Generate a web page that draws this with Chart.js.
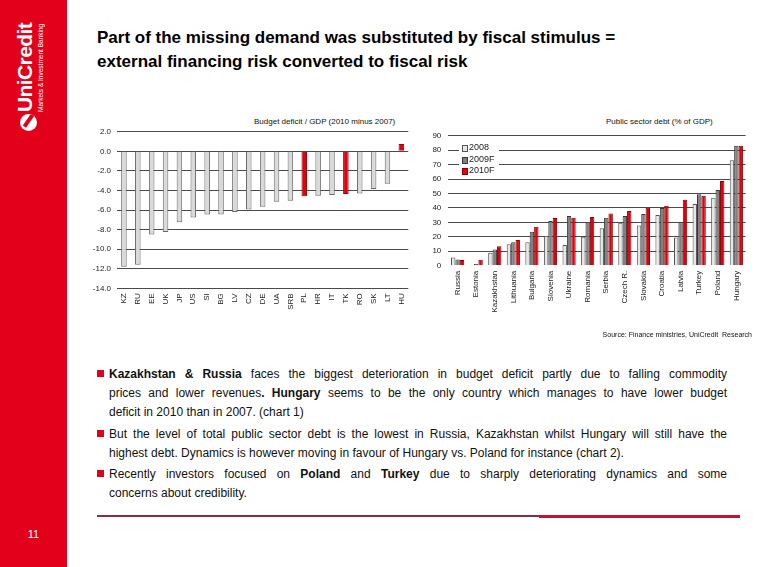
<!DOCTYPE html>
<html><head><meta charset="utf-8">
<script src="https://cdn.jsdelivr.net/npm/chart.js@4.4.1/dist/chart.umd.min.js"></script>
<style>
html,body{margin:0;padding:0;background:#fff;}
body{width:765px;height:567px;position:relative;overflow:hidden;font-family:"Liberation Sans",Arial,sans-serif;color:#000;}
#side{position:absolute;left:0;top:0;width:67px;height:567px;background:#e2001a;}
.vt{position:absolute;writing-mode:vertical-rl;transform:rotate(180deg);color:#fff;white-space:nowrap;text-align:start;}
#logo1{left:13px;top:20px;height:92px;font-weight:bold;font-size:21px;line-height:24px;letter-spacing:-0.6px;}
#logo2{left:37px;top:22px;height:90px;font-size:6.5px;line-height:8px;}
#sym{position:absolute;left:20px;top:114px;width:17px;height:17px;border-radius:50%;background:#fff;overflow:hidden;}
#sym i{position:absolute;left:7px;top:-2px;width:4px;height:16px;background:#e2001a;transform:rotate(35deg);}
#pg{position:absolute;left:0;width:67px;top:528px;text-align:center;color:#fff;font-size:11px;}
#title{position:absolute;left:97px;top:26px;font-weight:bold;font-size:17px;line-height:24px;}
.ct{position:absolute;top:117px;font-size:8px;line-height:10px;white-space:nowrap;color:#111;}
canvas{position:absolute;}
#lg{position:absolute;left:459px;top:142px;width:40px;height:34px;background:#fff;font-size:9px;line-height:11.5px;color:#222;}
#lg div{position:relative;padding-left:10px;height:11.5px;white-space:nowrap;}
#lg span{position:absolute;left:3px;top:3px;width:4px;height:5px;border:1px solid;}
#src{position:absolute;right:13px;top:330px;font-size:7px;line-height:10px;white-space:nowrap;color:#111;}
.bul{position:absolute;left:109px;width:618px;font-size:12px;line-height:19px;color:#111;}
.bul .ln{white-space:nowrap;}
.bul .j{text-align:justify;text-align-last:justify;white-space:normal;}
.sq{position:absolute;left:-12px;top:5.5px;width:7px;height:7px;background:#e2001a;}
#l1{position:absolute;left:97px;top:515px;width:442px;height:2px;background:#8c2c42;}
#l2{position:absolute;left:539px;top:514.5px;width:201px;height:3px;background:#c4122f;}
</style>
</head><body>
<div id="side"></div>
<div class="vt" id="logo1">UniCredit</div>
<div class="vt" id="logo2">Markets &amp; Investment Banking</div>
<div id="sym"><i></i></div>
<div id="pg">11</div>

<div id="title">Part of the missing demand was substituted by fiscal stimulus =<br>external financing risk converted to fiscal risk</div>

<div class="ct" id="t1" style="left:254px;">Budget deficit / GDP (2010 minus 2007)</div>
<div class="ct" id="t2" style="left:606px;">Public sector debt (% of GDP)</div>

<canvas id="c1" width="326" height="208" style="left:90px;top:121px;width:326px;height:208px;"></canvas>
<canvas id="c2" width="336" height="190" style="left:415px;top:124px;width:336px;height:190px;"></canvas>

<div id="lg"></div>

<div id="src">Source: Finance ministries, UniCredit&nbsp; Research</div>

<div class="bul" style="top:364.5px;">
  <div class="sq"></div>
  <div class="ln j"><b>Kazakhstan &amp; Russia</b> faces the biggest deterioration in budget deficit partly due to falling commodity</div>
  <div class="ln j">prices and lower revenues<b>.</b> <b>Hungary</b> seems to be the only country which manages to have lower budget</div>
  <div class="ln">deficit in 2010 than in 2007. (chart 1)</div>
</div>
<div class="bul" style="top:424.8px;">
  <div class="sq"></div>
  <div class="ln j">But the level of total public sector debt is the lowest in Russia, Kazakhstan whilst Hungary will still have the</div>
  <div class="ln">highest debt. Dynamics is however moving in favour of Hungary vs. Poland for instance (chart 2).</div>
</div>
<div class="bul" style="top:464.8px;">
  <div class="sq"></div>
  <div class="ln j">Recently investors focused on <b>Poland</b> and <b>Turkey</b> due to sharply deteriorating dynamics and some</div>
  <div class="ln">concerns about credibility.</div>
</div>

<div id="l1"></div><div id="l2"></div>

<script>
// ---- Chart 1: Budget deficit / GDP (2010 minus 2007)
const deficitCategories = ['KZ','RU','EE','UK','JP','US','SI','BG','LV','CZ','DE','UA','SRB','PL','HR','IT','TK','RO','SK','LT','HU'];
const deficitChange = [-11.8,-11.6,-8.5,-8.25,-7.25,-6.75,-6.45,-6.45,-6.2,-5.95,-5.65,-5.15,-5.05,-4.6,-4.55,-4.45,-4.35,-4.3,-3.85,-3.3,0.75];
const deficitHighlighted = ['PL','TK','HU'];
const deficitAxis = {min:-14, max:2, step:2};

// ---- Chart 2: Public sector debt (% of GDP)
const debtCategories = ['Russia','Estonia','Kazakhstan','Lithuania','Bulgaria','Slovenia','Ukraine','Romania','Serbia','Czech R.','Slovakia','Croatia','Latvia','Turkey','Poland','Hungary'];
const debtSeriesNames = ['2008','2009F','2010F'];
const debt2008  = [5.7,0.2,8.9,14.8,16.2,20.8,14.4,20.0,26.0,29.7,27.9,35.2,19.6,42.7,47.0,73.0];
const debt2009F = [4.3,1.1,11.2,16.2,23.5,31.0,34.5,30.0,33.3,34.5,35.8,40.0,30.1,49.5,52.5,83.1];
const debt2010F = [3.9,4.1,13.5,17.8,26.9,33.1,33.3,33.8,36.1,37.9,40.2,41.6,45.7,48.4,58.7,83.1];
const debtAxis = {min:0, max:90, step:10};

const FONT = "'Liberation Sans', Arial, sans-serif";
Chart.defaults.font.family = FONT;
Chart.defaults.color = '#222';

new Chart(document.getElementById('c1'), {
  type: 'bar',
  data: {
    labels: deficitCategories,
    datasets: [{
      data: deficitChange,
      backgroundColor: ctx => deficitHighlighted.includes(deficitCategories[ctx.dataIndex]) ? '#e3000f' : '#d9d9d9',
      borderColor: ctx => deficitHighlighted.includes(deficitCategories[ctx.dataIndex]) ? '#a00008' : '#6a6a6a',
      borderWidth: 1,
      categoryPercentage: 0.8,
      barPercentage: 0.5
    }]
  },
  options: {
    animation: false, responsive: false, maintainAspectRatio: false, devicePixelRatio: 1,
    layout: {padding: {top: 10, right: 2, bottom: 0, left: 0}},
    plugins: {legend: {display: false}, tooltip: {enabled: false}},
    scales: {
      x: {
        grid: {display: false, drawTicks: false}, border: {display: false},
        ticks: {autoSkip: false, minRotation: 90, maxRotation: 90, padding: 5, font: {size: 8}, color: '#222'},
        afterFit(s) { s.height = 40.7; }
      },
      y: {
        min: deficitAxis.min, max: deficitAxis.max,
        ticks: {stepSize: deficitAxis.step, callback: v => v.toFixed(1), padding: 6, font: {size: 8}, color: '#222'},
        grid: {color: '#4a4a4a', lineWidth: 1, drawTicks: false}, border: {display: false},
        afterFit(s) { s.width = 27; }
      }
    }
  }
});

const debtColors = [
  {bg: '#e6e6e6', bd: '#555555'},
  {bg: '#808080', bd: '#3a3a3a'},
  {bg: '#e10010', bd: '#8a0000'}
];
const debtValues = [debt2008, debt2009F, debt2010F];

new Chart(document.getElementById('c2'), {
  type: 'bar',
  data: {
    labels: debtCategories,
    datasets: debtSeriesNames.map((n, i) => ({
      label: n, data: debtValues[i],
      backgroundColor: debtColors[i].bg, borderColor: debtColors[i].bd, borderWidth: 1,
      categoryPercentage: 0.71, barPercentage: 1.0
    }))
  },
  options: {
    animation: false, responsive: false, maintainAspectRatio: false, devicePixelRatio: 1,
    layout: {padding: {top: 10.3, right: 1.7, bottom: 0, left: 0}},
    plugins: {legend: {display: false}, tooltip: {enabled: false}},
    scales: {
      x: {
        grid: {display: false, drawTicks: false}, border: {display: false},
        ticks: {autoSkip: false, minRotation: 90, maxRotation: 90, padding: 5, font: {size: 8}, color: '#222'},
        afterFit(s) { s.height = 48.3; }
      },
      y: {
        min: debtAxis.min, max: debtAxis.max,
        ticks: {stepSize: debtAxis.step, padding: 7, font: {size: 8}, color: '#222'},
        grid: {color: ctx => ctx.tick && ctx.tick.value === 0 ? 'rgba(0,0,0,0)' : '#4a4a4a', lineWidth: 1, drawTicks: false},
        border: {display: false},
        afterFit(s) { s.width = 33.3; }
      }
    }
  }
});

// HTML legend for chart 2
const lg = document.getElementById('lg');
debtSeriesNames.forEach((n, i) => {
  const d = document.createElement('div');
  const sw = document.createElement('span');
  sw.style.background = debtColors[i].bg;
  sw.style.borderColor = debtColors[i].bd;
  d.appendChild(sw);
  d.appendChild(document.createTextNode(n));
  lg.appendChild(d);
});
</script>
</body></html>
